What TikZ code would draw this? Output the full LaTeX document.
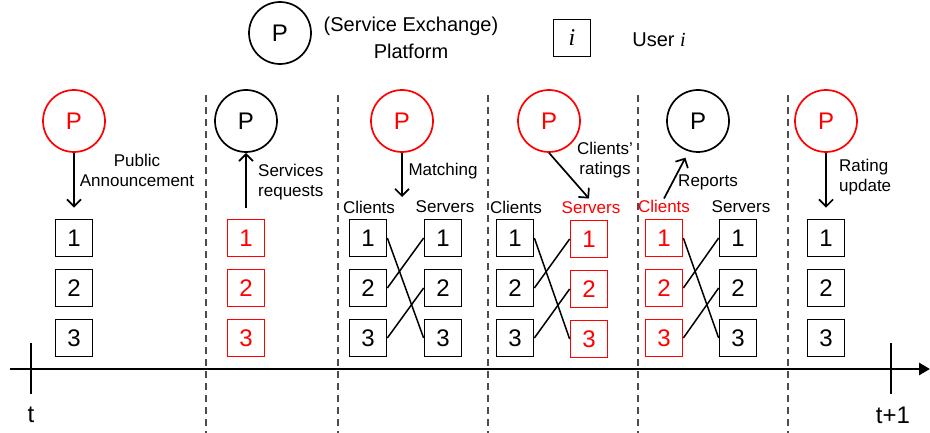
\documentclass[tikz,border=0pt]{standalone}
\usepackage{fontspec}
\setmainfont{Liberation Sans}
\newfontfamily\timesfont{Liberation Serif}
\usetikzlibrary{arrows.meta,calc}
\tikzset{
  plat/.style = {circle, draw, line width=1.7pt, minimum size=62pt, inner sep=0pt, font=\fontsize{24}{24}\selectfont},
  plat_n/.style = {plat, black},
  plat_r/.style = {plat, red},
  usr/.style = {rectangle, draw, line width=1.7pt, minimum size=37pt, inner sep=0pt, font=\fontsize{24}{24}\selectfont},
  usr_n/.style = {usr, black},
  usr_r/.style = {usr, red},
  lbl/.style = {align=center, inner sep=1pt, font=\fontsize{17}{20}\selectfont},
  legend/.style = {align=center, inner sep=1pt, font=\fontsize{20}{27}\selectfont},
  tlbl/.style = {inner sep=1pt, font=\fontsize{24}{24}\selectfont},
  sep/.style = {draw=black!70, line width=1.2pt, dash pattern=on 7pt off 5pt},
  msg/.style = {line width=1.7pt, -{Straight Barb[length=7pt,width=14pt]}},
  match/.style = {line width=1.5pt},
  timeline/.style = {line width=2.7pt, -{Triangle[length=11pt,width=12pt]}},
  tick/.style = {line width=1.7pt}
}

\begin{document}
\begin{tikzpicture}[x=1pt,y=-1pt]
	\useasboundingbox (0,0) rectangle (930,433);
	% legend
	\node [plat_n] (lp) at (280,33) {P};
	\node [legend] (lpt) at (411,38) {(Service Exchange)\\Platform};
	\node [usr_n] (lu) at (572,38) {\timesfont\itshape i};
	\node [legend] (lut) at (659,40) {User {\timesfont\itshape i}};

	% separators
	\draw [sep] (206,95) -- (206,433);
	\draw [sep] (338,95) -- (338,433);
	\draw [sep] (488,95) -- (488,433);
	\draw [sep] (638,95) -- (638,433);
	\draw [sep] (788,95) -- (788,433);

	% time axis
	\coordinate (t0) at (10,369);
	\coordinate (t1) at (930,369);
	\draw [timeline] (t0) -- (t1);
	\coordinate (ta) at (31,343);
	\coordinate (tb) at (31,394);
	\draw [tick] (ta) -- (tb);
	\coordinate (tc) at (891,343);
	\coordinate (td) at (891,394);
	\draw [tick] (tc) -- (td);
	\node [tlbl] (tt) at (31,415) {t};
	\node [tlbl] (tt1) at (893,415) {t+1};

	% public announcement
	\node [plat_r] (p1) at (74,121) {P};
	\node [usr_n] (u1_1) at (74,238) {1};
	\node [usr_n] (u1_2) at (74,288) {2};
	\node [usr_n] (u1_3) at (74,338) {3};
	\draw [msg, shorten >=11pt] (p1.south) -- (u1_1.north);
	\node [lbl] (l1) at (137,170) {Public\\Announcement};

	% services requests
	\node [plat_n] (p2) at (246,121) {P};
	\node [usr_r] (u2_1) at (246,238) {1};
	\node [usr_r] (u2_2) at (246,288) {2};
	\node [usr_r] (u2_3) at (246,338) {3};
	\draw [msg, shorten <=11pt] (u2_1.north) -- (p2.south);
	\node [lbl, align=left, anchor=west] (l2) at (257,182) {Services\\requests};

	% matching
	\node [plat_r] (p3) at (402,121) {P};
	\coordinate (m3) at (402,197);
	\draw [msg] (p3.south) -- (m3);
	\node [lbl] (l3) at (443,171) {Matching};
	\node [lbl] (cl3) at (369,207) {Clients};
	\node [lbl] (sv3) at (445,207) {Servers};
	\node [usr_n] (c3_1) at (368,238) {1};
	\node [usr_n] (c3_2) at (368,288) {2};
	\node [usr_n] (c3_3) at (368,338) {3};
	\node [usr_n] (s3_1) at (443,238) {1};
	\node [usr_n] (s3_2) at (443,288) {2};
	\node [usr_n] (s3_3) at (443,338) {3};
	\draw [match] (c3_1.east) -- (s3_3.west);
	\draw [match] (c3_2.east) -- (s3_1.west);
	\draw [match] (c3_3.east) -- (s3_2.west);

	% clients' ratings
	\node [plat_r] (p4) at (549,121) {P};
	\node [lbl] (cl4) at (516,207) {Clients};
	\node [lbl, red] (sv4) at (591,208) {Servers};
	\draw [msg, shorten >=3pt] (p4.south) -- (sv4.north);
	\node [lbl] (l4) at (605,160) {Clients’\\ratings};
	\node [usr_n] (c4_1) at (515,238) {1};
	\node [usr_n] (c4_2) at (515,288) {2};
	\node [usr_n] (c4_3) at (515,338) {3};
	\node [usr_r] (s4_1) at (589,239) {1};
	\node [usr_r] (s4_2) at (589,289) {2};
	\node [usr_r] (s4_3) at (589,339) {3};
	\draw [match] (c4_1.east) -- (s4_3.west);
	\draw [match] (c4_2.east) -- (s4_1.west);
	\draw [match] (c4_3.east) -- (s4_2.west);

	% reports
	\node [plat_n] (p5) at (698,121) {P};
	\node [lbl, red] (cl5) at (664,206) {Clients};
	\node [lbl] (sv5) at (741,207) {Servers};
	\draw [msg, shorten >=7pt] (cl5.north) -- (p5.253);
	\node [lbl] (l5) at (708,182) {Reports};
	\node [usr_r] (c5_1) at (664,238) {1};
	\node [usr_r] (c5_2) at (664,288) {2};
	\node [usr_r] (c5_3) at (664,338) {3};
	\node [usr_n] (s5_1) at (738,238) {1};
	\node [usr_n] (s5_2) at (738,288) {2};
	\node [usr_n] (s5_3) at (738,338) {3};
	\draw [match] (c5_1.east) -- (s5_3.west);
	\draw [match] (c5_2.east) -- (s5_1.west);
	\draw [match] (c5_3.east) -- (s5_2.west);

	% rating update
	\node [plat_r] (p6) at (826,121) {P};
	\node [usr_n] (u6_1) at (826,238) {1};
	\node [usr_n] (u6_2) at (826,288) {2};
	\node [usr_n] (u6_3) at (826,338) {3};
	\draw [msg, shorten >=11pt] (p6.south) -- (u6_1.north);
	\node [lbl, align=left, anchor=west] (l6) at (838,177) {Rating\\update};
\end{tikzpicture}
\end{document}
